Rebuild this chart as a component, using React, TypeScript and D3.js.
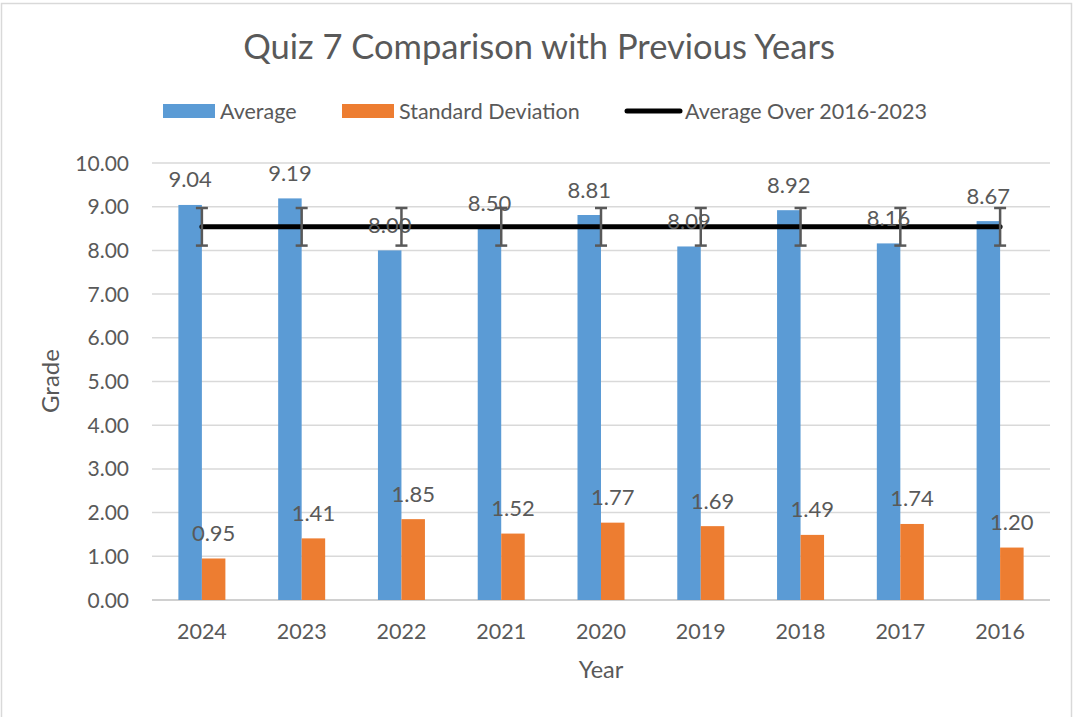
import React from "react";
import * as d3 from "d3";

const years = ["2024", "2023", "2022", "2021", "2020", "2019", "2018", "2017", "2016"];
const averages = [9.04, 9.19, 8.0, 8.5, 8.81, 8.09, 8.92, 8.16, 8.67];
const stdDevs = [0.95, 1.41, 1.85, 1.52, 1.77, 1.69, 1.49, 1.74, 1.2];
const overallAverage = [8.54, 8.54, 8.54, 8.54, 8.54, 8.54, 8.54, 8.54, 8.54];
const overallError = [0.43, 0.43, 0.43, 0.43, 0.43, 0.43, 0.43, 0.43, 0.43];
const yTicks = [0, 1, 2, 3, 4, 5, 6, 7, 8, 9, 10];

const W = 1079;
const H = 717;
const FONT = "Lato, 'Noto Sans', sans-serif";
const TEXT = "#595959";
const BLUE = "#5b9bd5";
const ORANGE = "#ed7d31";

export default function App() {
  const x = d3.scaleBand<string>().domain(years).range([152, 1050]).padding(0);
  const y = d3.scaleLinear().domain([0, 10]).range([600, 163]);
  const barW = 23.5;
  const cx = (yr: string) => (x(yr) as number) + x.bandwidth() / 2;

  const line = d3
    .line<number>()
    .x((_, i) => cx(years[i]))
    .y((d) => y(d));

  return (
    <svg
      width={W}
      height={H}
      style={{ position: "absolute", left: 0, top: 0, background: "#fff" }}
      fontFamily={FONT}
    >
      <rect x={1.5} y={3.5} width={1070} height={730} fill="#fff" stroke="#d9d9d9" strokeWidth={1.5} />

      <text x={539} y={59} textAnchor="middle" fontSize={34.5} fill={TEXT}>
        Quiz 7 Comparison with Previous Years
      </text>

      {/* legend */}
      <rect x={163} y={104} width={52} height={14} fill={BLUE} />
      <text x={220} y={118.5} fontSize={21.5} fill={TEXT}>Average</text>
      <rect x={342} y={104} width={52} height={14} fill={ORANGE} />
      <text x={399} y={118.5} fontSize={21.5} fill={TEXT}>Standard Deviation</text>
      <line x1={627} x2={680} y1={111} y2={111} stroke="#000" strokeWidth={5} strokeLinecap="round" />
      <text x={685} y={118.5} fontSize={21.5} fill={TEXT}>Average Over 2016-2023</text>

      {/* gridlines */}
      {yTicks.map((t) => (
        <line
          key={"g" + t}
          x1={152}
          x2={1050}
          y1={y(t)}
          y2={y(t)}
          stroke={t === 0 ? "#d0d0d0" : "#d9d9d9"}
          strokeWidth={t === 0 ? 2 : 1.5}
        />
      ))}
      {yTicks.map((t) => (
        <text key={"yt" + t} x={129} y={y(t) + 7.5} textAnchor="end" fontSize={21} fill={TEXT}>
          {t.toFixed(2)}
        </text>
      ))}
      {years.map((yr) => (
        <text key={"xt" + yr} x={cx(yr)} y={638.5} textAnchor="middle" fontSize={21.5} fill={TEXT}>
          {yr}
        </text>
      ))}

      <text x={601} y={678} textAnchor="middle" fontSize={23.5} fill={TEXT}>Year</text>
      <text transform="translate(59,381) rotate(-90)" textAnchor="middle" fontSize={24} fill={TEXT}>
        Grade
      </text>

      {/* bars */}
      {years.map((yr, i) => (
        <g key={"b" + yr}>
          <rect x={cx(yr) - barW} y={y(averages[i])} width={barW} height={y(0) - y(averages[i])} fill={BLUE} />
          <rect x={cx(yr)} y={y(stdDevs[i])} width={barW} height={y(0) - y(stdDevs[i])} fill={ORANGE} />
        </g>
      ))}

      {/* average line */}
      <path d={line(overallAverage) || ""} fill="none" stroke="#000" strokeWidth={5} strokeLinecap="round" />

      {/* error bars */}
      {years.map((yr, i) => {
        const top = y(overallAverage[i] + overallError[i]);
        const bot = y(overallAverage[i] - overallError[i]);
        const c = cx(yr);
        return (
          <g key={"e" + yr} stroke="#595959" strokeWidth={2.5}>
            <line x1={c} x2={c} y1={top} y2={bot} />
            <line x1={c - 6} x2={c + 6} y1={top} y2={top} />
            <line x1={c - 6} x2={c + 6} y1={bot} y2={bot} />
          </g>
        );
      })}

      {/* data labels */}
      {years.map((yr, i) => (
        <g key={"l" + yr}>
          <text x={cx(yr) - barW / 2} y={y(averages[i]) - 17.5} textAnchor="middle" fontSize={22} fill={TEXT}>
            {averages[i].toFixed(2)}
          </text>
          <text x={cx(yr) + barW / 2} y={y(stdDevs[i]) - 17.5} textAnchor="middle" fontSize={22} fill={TEXT}>
            {stdDevs[i].toFixed(2)}
          </text>
        </g>
      ))}
    </svg>
  );
}
